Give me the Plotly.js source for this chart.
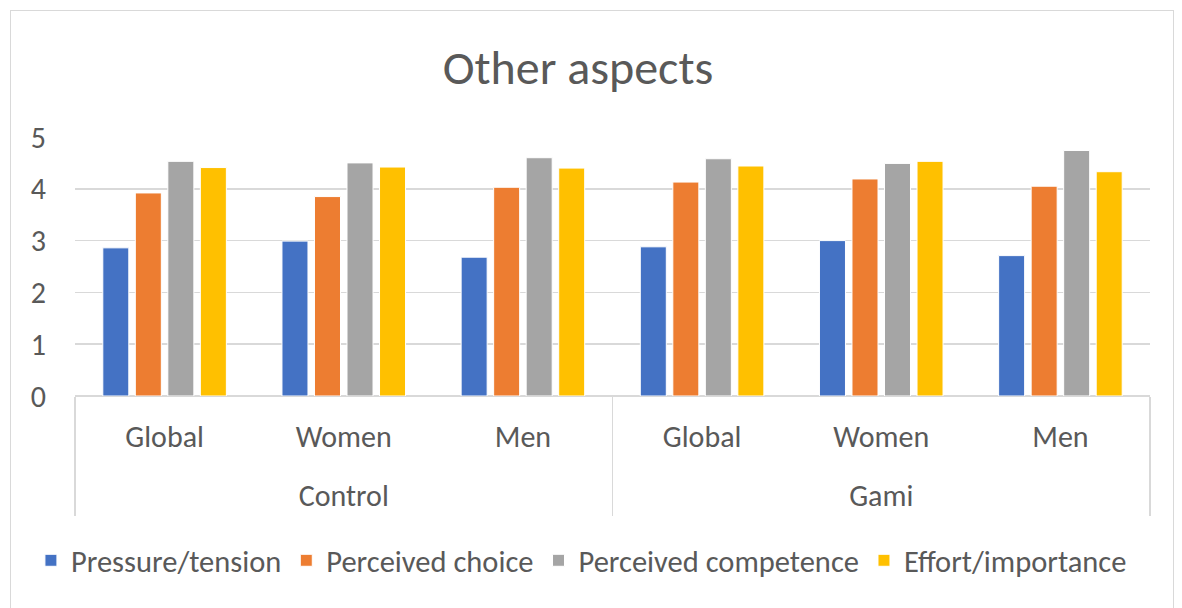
<!DOCTYPE html>
<html><head><meta charset="utf-8">
<script src="https://cdn.plot.ly/plotly-3.0.1.min.js"></script>
<style>
body{margin:0;background:#fff;}
#chart{width:1182px;height:608px;}
#frame{position:absolute;left:10px;top:10px;width:1162px;height:610px;border:1px solid #d9d9d9;pointer-events:none;}
</style></head>
<body>
<div id="chart"></div>
<div id="frame"></div>
<script>
var groups = ["Control","Control","Control","Gami","Gami","Gami"];
var subgroups = ["Global","Women","Men","Global","Women","Men"];
var seriesNames = ["Pressure/tension","Perceived choice","Perceived competence","Effort/importance"];
var pressure = [2.86, 2.99, 2.68, 2.88, 3.00, 2.71];
var choice = [3.92, 3.85, 4.03, 4.13, 4.19, 4.05];
var competence = [4.53, 4.50, 4.60, 4.58, 4.49, 4.74];
var effort = [4.41, 4.42, 4.40, 4.44, 4.53, 4.33];
var colors = ["#4472C4","#ED7D31","#A5A5A5","#FFC000"];
var values = [pressure, choice, competence, effort];

// category keys built from the group / subgroup arrays
var cats = groups.map(function(g,i){ return g + " | " + subgroups[i]; });
// group label positions (category index centres) and group boundaries
var groupNames = [], groupCenters = [], bounds = [-0.5];
groups.forEach(function(g){ if (groupNames.indexOf(g) < 0) groupNames.push(g); });
groupNames.forEach(function(g){
  var idx = []; groups.forEach(function(h,i){ if (h===g) idx.push(i); });
  groupCenters.push((idx[0] + idx[idx.length-1]) / 2);
  bounds.push(idx[idx.length-1] + 0.5);
});

var font = "Calibri, Carlito, 'Open Sans', sans-serif";
var traces = values.map(function(v,i){
  return {type:"bar", name:seriesNames[i], x:cats, y:v,
    marker:{color:colors[i], line:{color:"#ffffff", width:1}}, hoverinfo:"y"};
});
// helper trace so that the group-label axis is drawn
traces.push({type:"scatter", mode:"none", x:groupCenters, y:groupCenters.map(function(){return 0;}),
  xaxis:"x2", yaxis:"y", showlegend:false, hoverinfo:"skip"});

var layout = {
  width:1182, height:608,
  margin:{l:75, r:32, t:137, b:212},
  paper_bgcolor:"#fff", plot_bgcolor:"#fff",
  title:{text:"Other aspects", font:{family:font, size:48, color:"#595959"}, x:0.489, xanchor:"center", y:0.89, yanchor:"middle"},
  barmode:"group", bargap:0.274, bargroupgap:0.2,
  font:{family:font, color:"#595959", size:30},
  xaxis:{type:"category", tickvals:cats, ticktext:subgroups, showgrid:false, showline:false, zeroline:false,
    tickfont:{size:30, color:"#595959"}, ticks:"", ticklabelstandoff:20, automargin:false},
  xaxis2:{overlaying:"x", anchor:"y", side:"bottom", range:[-0.5, cats.length-0.5], showgrid:false, zeroline:false, showline:false,
    tickmode:"array", tickvals:groupCenters, ticktext:groupNames, ticks:"", ticklabelstandoff:79,
    tickfont:{size:30, color:"#595959"},
    minor:{tickmode:"array", tickvals:bounds, ticks:"outside", ticklen:119, tickwidth:1.5, tickcolor:"#d9d9d9", showgrid:false},
    automargin:false},
  yaxis:{range:[0,5], dtick:1, showgrid:true, gridcolor:"#d9d9d9", gridwidth:1.5, zeroline:true, zerolinecolor:"#d9d9d9", zerolinewidth:1.5,
    showline:false, tickfont:{size:30, color:"#595959"}, ticklabelstandoff:28, automargin:false},
  legend:{orientation:"h", x:-0.041, xanchor:"left", y:-0.635, yanchor:"middle", font:{size:30.5, color:"#595959"}, itemwidth:30, tracegroupgap:0},
  showlegend:true
};
Plotly.newPlot("chart", traces, layout, {displayModeBar:false, staticPlot:true});
</script>
</body></html>
